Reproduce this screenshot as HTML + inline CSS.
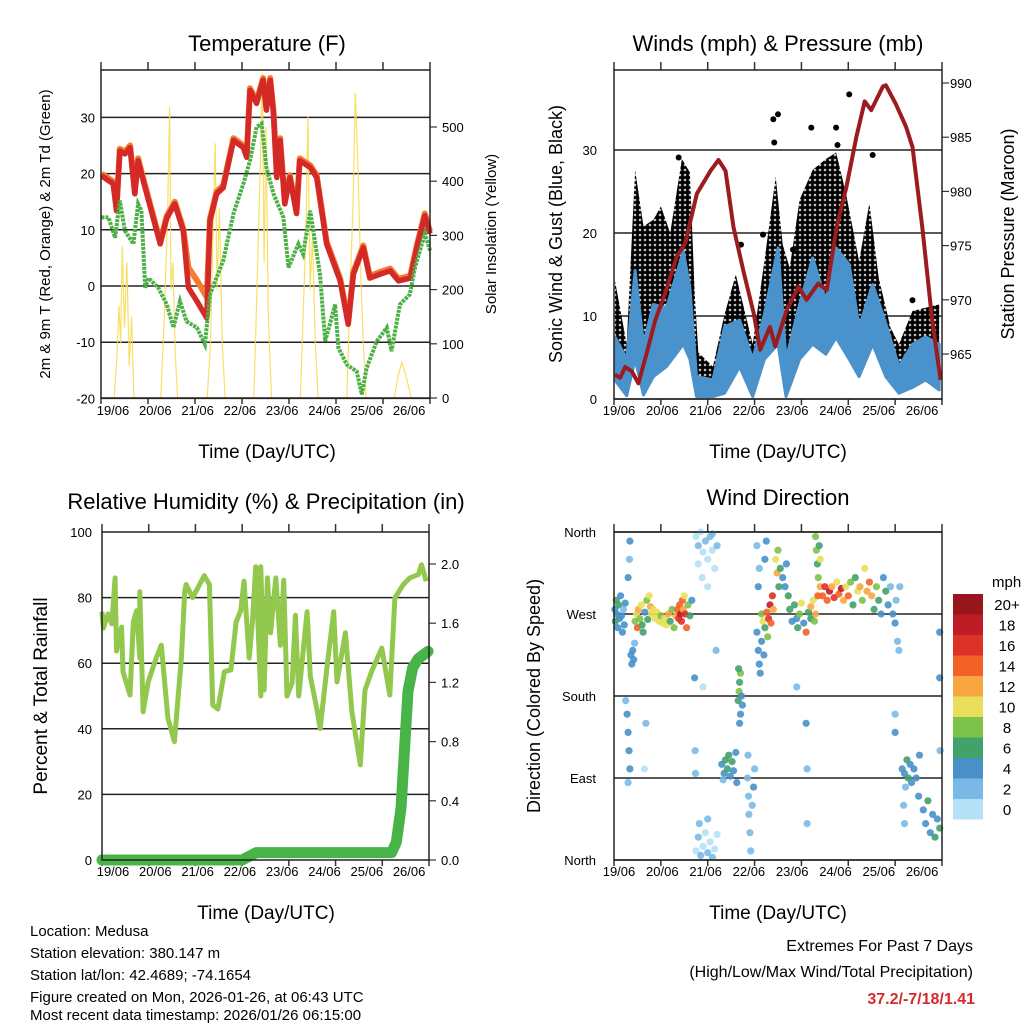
<!DOCTYPE html>
<html><head><meta charset="utf-8"><style>
html,body{margin:0;padding:0;background:#fff;}
svg{display:block;font-family:"Liberation Sans",sans-serif;}
</style></head><body>
<svg id="c" width="1024" height="1024" viewBox="0 0 1024 1024" xmlns="http://www.w3.org/2000/svg">
<defs>
<pattern id="dotpat" width="5" height="5" patternUnits="userSpaceOnUse"><circle cx="2.5" cy="2.5" r="2.6" fill="#000"/></pattern>
</defs>
<g id="static">
<text x="267" y="51" font-size="22" text-anchor="middle">Temperature (F)</text>
<text x="778" y="51" font-size="22" text-anchor="middle">Winds (mph) &amp; Pressure (mb)</text>
<text x="266" y="509" font-size="22" text-anchor="middle">Relative Humidity (%) &amp; Precipitation (in)</text>
<text x="778" y="505" font-size="22" text-anchor="middle">Wind Direction</text>
<text x="267" y="458" font-size="19" text-anchor="middle">Time (Day/UTC)</text>
<text x="778" y="458" font-size="19" text-anchor="middle">Time (Day/UTC)</text>
<text x="266" y="919" font-size="19" text-anchor="middle">Time (Day/UTC)</text>
<text x="778" y="919" font-size="19" text-anchor="middle">Time (Day/UTC)</text>
<text transform="translate(50,234) rotate(-90)" font-size="15" text-anchor="middle">2m &amp; 9m T (Red, Orange) &amp; 2m Td (Green)</text>
<text transform="translate(496,234) rotate(-90)" font-size="15" text-anchor="middle">Solar Insolation (Yellow)</text>
<text transform="translate(562,234) rotate(-90)" font-size="18" text-anchor="middle">Sonic Wind &amp; Gust (Blue, Black)</text>
<text transform="translate(1014,234) rotate(-90)" font-size="18" text-anchor="middle">Station Pressure (Maroon)</text>
<text transform="translate(47,696) rotate(-90)" font-size="19" text-anchor="middle">Percent &amp; Total Rainfall</text>
<text transform="translate(540,696) rotate(-90)" font-size="18" text-anchor="middle">Direction (Colored By Speed)</text>
<g font-size="15">
<text x="30" y="936">Location: Medusa</text>
<text x="30" y="958">Station elevation: 380.147 m</text>
<text x="30" y="980">Station lat/lon: 42.4689; -74.1654</text>
<text x="30" y="1002">Figure created on Mon, 2026-01-26, at 06:43 UTC</text>
<text x="30" y="1024" dy="-4">Most recent data timestamp: 2026/01/26 06:15:00</text>
</g>
<text x="973" y="951" font-size="16" text-anchor="end">Extremes For Past 7 Days</text>
<text x="973" y="977" font-size="16" text-anchor="end">(High/Low/Max Wind/Total Precipitation)</text>
<text x="975" y="1004" font-size="16" font-weight="bold" fill="#d42a2a" text-anchor="end">37.2/-7/18/1.41</text>
<text x="992" y="587" font-size="15">mph</text>
</g>
<g id="dyn"></g>
</svg>
<script>
// ---------- Temperature panel data ----------
const tempT=[0.01,0.26,0.33,0.40,0.51,0.62,0.72,0.79,0.90,1.26,1.40,1.57,1.75,1.86,2.04,2.25,2.32,2.46,2.60,2.82,3.03,3.10,3.17,3.31,3.45,3.52,3.60,3.67,3.74,3.81,3.91,4.02,4.16,4.23,4.45,4.59,4.80,5.09,5.26,5.37,5.58,5.72,5.94,6.15,6.33,6.58,6.72,6.89,7.0];
const temp2m=[19.6,18.2,13.4,24,23.5,24.6,16.4,22.3,18.7,7.5,12.1,14.6,9.8,-0.3,-2.7,-5.7,11.6,16.4,17.5,25.9,24.6,22.9,34.8,32.5,36.6,31.3,36.6,30.7,19.3,25.9,14.6,19.3,12.9,22.3,21.1,19.3,7.5,0.9,-6.8,2.1,6.8,1.4,2.1,2.7,0.9,1.4,6.8,12.5,9.3];
const temp9m=[20,18.6,13.8,24.4,23.9,25,16.8,22.7,19.1,7.9,12.5,15,10.2,3.3,1.0,-2.0,12,16.8,17.9,26.3,25,23.3,35.2,32.9,37,31.7,37,31.1,19.7,26.3,15,19.7,13.3,22.7,21.5,19.7,7.9,1.3,-6.4,2.5,7.2,1.8,2.5,3.1,1.3,1.8,7.2,12.9,9.7];
const dewT=[0.01,0.16,0.30,0.40,0.51,0.69,0.79,0.86,0.94,1.01,1.22,1.40,1.54,1.68,1.82,2.04,2.21,2.32,2.60,2.82,3.03,3.17,3.31,3.42,3.52,3.67,3.88,3.99,4.20,4.30,4.45,4.66,4.77,4.87,4.98,5.05,5.23,5.44,5.55,5.65,5.87,6.08,6.18,6.36,6.57,6.68,6.89,7.0];
const dewV=[12.2,12.2,8.6,15.2,9.8,7.5,14.6,13.4,-0.3,1.4,-0.3,-3.3,-7.4,-2.7,-6.3,-7.4,-10.4,-1.5,4.5,12.9,18.2,22.3,28.3,28.9,21.1,16.4,12.2,3.3,7.5,5.7,13.4,2.1,-9.8,-6.8,-3.3,-11,-14,-15.2,-19.3,-14.6,-9.8,-7.4,-11.6,-3.3,-1.5,3.3,9.3,6.3];
const solarT=[0.28,0.34,0.38,0.42,0.45,0.50,0.55,0.60,0.65,0.70, 1.27,1.35,1.42,1.46,1.49,1.53,1.58,1.63, 2.26,2.33,2.38,2.43,2.47,2.52,2.58,2.64, 3.25,3.32,3.38,3.43,3.47,3.51,3.56,3.63, 4.24,4.30,4.36,4.40,4.45,4.50,4.56,4.62, 5.23,5.30,5.36,5.41,5.46,5.52,5.58,5.64, 6.24,6.32,6.40,6.46,6.52,6.60];
const solarV=[0,80,170,100,280,130,250,60,150,0, 0,150,350,537,200,250,80,0, 0,100,300,470,200,350,100,0, 0,200,400,600,250,500,150,0, 0,150,300,520,200,300,100,0, 0,200,350,563,450,250,100,0, 0,40,66,50,30,0];
const tempTicks=[30,20,10,0,-10,-20];
const solarTicks=[500,400,300,200,100,0];
const dayLabels=["19/06","20/06","21/06","22/06","23/06","24/06","25/06","26/06"];
// ---------- Wind panel data ----------
const sonicT=[0.02,0.27,0.45,0.63,0.84,1.12,1.48,1.62,1.76,2.11,2.36,2.68,2.96,3.21,3.50,3.67,3.96,4.24,4.52,4.74,5.02,5.23,5.52,5.80,6.08,6.37,6.65,6.94];
const sonicHi=[7.5,4.8,15.5,6.6,11.4,11,17.8,13.4,2.7,2.3,8.7,9.5,4.8,10.2,18.2,4.8,11.4,17,11.8,18.2,16.2,8.7,13.8,9.1,3.9,6.6,7.5,6.6];
const sonicLo=[2.3,0.4,4.8,0.5,2.7,3.9,6.6,4.8,0.3,0.3,0.7,3.9,0.3,4.8,6.6,0.3,4.8,6.6,5.4,7.4,4.8,2.7,6.6,2.7,0.7,1.4,2.3,1.1];
const gustT=[0.02,0.27,0.45,0.63,0.84,1.0,1.2,1.45,1.62,1.72,1.80,2.11,2.36,2.60,2.96,3.21,3.45,3.60,3.75,3.96,4.24,4.52,4.74,4.95,5.23,5.45,5.65,5.90,6.08,6.37,6.94];
const gustHi=[14.3,6.6,27.6,20.8,21.6,23.2,20,28.9,27.3,13,5.6,3.9,10.2,15,6.6,16.6,26.8,18.6,15.8,24,27.6,28.9,29.7,24.8,16.6,23.6,14.6,8.6,6.6,10.6,11.4];
const gustOutT=[1.38,3.40,3.50,3.42,4.21,5.02,4.74,5.52,4.77,3.18,2.71,3.82,6.37];
const gustOutV=[29.1,33.7,34.3,30.9,32.7,36.7,32.7,29.4,30.6,19.8,18.6,18.0,11.9];
const presT=[0.02,0.13,0.24,0.38,0.52,0.70,0.88,1.09,1.34,1.52,1.77,2.06,2.23,2.38,2.55,2.77,2.98,3.12,3.33,3.44,3.69,3.94,4.11,4.36,4.54,4.75,4.96,5.17,5.35,5.49,5.74,5.80,6.01,6.23,6.37,6.58,6.79,6.97];
const presV=[963.1,962.8,963.8,963.4,962.3,965.1,968.1,970.6,974,975.2,979.8,981.9,982.9,981.9,976.7,972.5,968.8,965.4,967.5,965.7,969.1,971.2,970,971.5,970.9,976.7,980.4,985,988.3,987.5,989.7,989.8,988.1,986,984.1,976.7,968.1,962.6];
const windTicks=[30,20,10,0];
const presTicks=[990,985,980,975,970,965];
// ---------- RH panel data ----------
const rhT=[0,0.03,0.13,0.21,0.28,0.31,0.42,0.45,0.60,0.67,0.74,0.81,0.81,0.88,0.99,1.16,1.27,1.41,1.55,1.70,1.77,1.80,1.94,2.09,2.19,2.30,2.37,2.48,2.62,2.76,2.87,2.97,3.04,3.15,3.22,3.29,3.40,3.40,3.47,3.54,3.61,3.72,3.82,3.89,3.96,4.07,4.14,4.21,4.39,4.46,4.60,4.67,4.82,4.96,5.03,5.21,5.35,5.53,5.63,5.77,5.99,6.16,6.27,6.45,6.59,6.77,6.84,6.94];
const rhV=[75.7,70.7,75,72,86,63.7,71,57.4,50.3,72.5,76,61.6,81.8,45.2,54.3,61.6,65.5,43.3,36.1,61.6,81.8,84,80,84,86.7,84,47.3,46,57.4,58,72.5,76,85,61.6,72.5,89.4,50,89.4,51.8,86,69.3,86,65.5,85.3,50,54,74.6,50,75.7,56,46,40.1,59.4,75.7,54.3,69.3,45.2,29,51.8,57.4,64.6,50.3,79.9,84,86,87,90,85];
const rainT=[0,3.0,3.3,6.2,6.3,6.4,6.55,6.65,6.77,6.98];
const rainV=[0,0,0.05,0.05,0.12,0.35,1.14,1.30,1.36,1.41];
const rhTicks=[100,80,60,40,20,0];
const rainTicks=["2.0","1.6","1.2","0.8","0.4","0.0"];
// ---------- Direction panel data: [day, degrees, mph] ----------
const dirObs=[[0.02,275,4],[0.03,262,6],[0.05,285,6],[0.06,270,4],[0.08,255,4],[0.1,280,6],[0.12,265,4],[0.14,290,4],[0.16,268,4],[0.18,250,4],[0.2,275,2],[0.22,258,4],[0.24,282,4],
[0.36,225,4],[0.38,215,4],[0.40,230,4],[0.42,220,4],[0.44,238,2],[0.33,330,2],[0.34,350,4],[0.3,310,4],
[0.45,262,8],[0.48,270,10],[0.5,255,14],[0.52,275,12],[0.55,265,8],[0.58,280,10],[0.6,258,6],[0.62,250,6],[0.66,272,4],[0.7,285,8],[0.72,264,6],[0.75,290,10],[0.78,278,12],
[0.8,270,10],[0.84,275,10],[0.88,265,10],[0.92,272,10],[0.96,262,10],[1.0,268,8],[1.04,260,10],[1.08,265,10],[1.12,258,10],[1.16,270,12],[1.2,262,6],[1.24,275,8],[1.28,255,8],
[1.32,268,12],[1.36,275,14],[1.38,265,16],[1.40,280,14],[1.42,270,18],[1.44,262,16],[1.46,285,14],[1.48,275,12],[1.50,290,10],[1.52,270,16],[1.55,255,14],[1.58,280,8],[1.62,268,6],[1.66,285,4],
[1.75,355,0],[1.8,345,2],[1.85,360,0],[1.9,338,0],[1.95,350,2],[2.0,330,0],[2.05,355,2],[2.1,340,0],[2.15,320,0],[2.2,345,2],[1.88,310,0],[2.0,300,0],[1.8,325,0],[2.1,358,2],
[1.75,10,0],[1.8,25,2],[1.85,5,2],[1.9,15,0],[1.95,30,0],[2.0,8,2],[2.05,20,0],[2.1,3,2],[2.15,12,0],[2.2,28,0],[1.82,40,2],[2.0,45,2],
[1.72,200,4],[1.73,120,2],[1.74,95,2],[1.9,190,0],[2.18,230,2],[0.28,160,4],[0.3,140,4],[0.32,120,4],[0.34,100,4],[0.3,85,2],[0.25,175,2],[0.65,100,0],[0.68,150,2],
[2.3,105,4],[2.35,95,4],[2.38,110,6],[2.42,100,6],[2.45,115,6],[2.48,92,4],[2.52,108,6],[2.55,98,4],[2.6,118,4],[2.62,85,4],[2.33,88,2],
[2.65,175,6],[2.67,185,8],[2.68,195,6],[2.7,205,8],[2.72,180,4],[2.74,170,4],[2.66,210,6],[2.7,160,4],[2.68,150,4],
[2.85,90,2],[2.87,70,2],[2.88,50,2],[2.9,30,2],[2.92,10,2],[2.95,60,2],[2.98,80,4],[3.0,100,2],[2.86,115,2],
[3.05,250,4],[3.08,230,4],[3.1,215,4],[3.12,205,4],[3.08,300,4],[3.1,320,2],[3.15,240,4],[3.2,225,4],[3.22,330,4],[3.25,350,4],[3.05,345,2],
[3.15,270,8],[3.18,262,10],[3.22,255,6],[3.26,272,14],[3.3,265,16],[3.33,280,18],[3.35,260,14],[3.38,290,16],[3.28,245,8],[3.4,275,12],
[3.45,330,10],[3.48,315,12],[3.5,340,8],[3.52,300,6],[3.55,320,6],[3.6,310,4],[3.65,300,4],[3.68,325,4],[3.72,290,6],
[3.75,275,6],[3.8,262,4],[3.85,280,6],[3.9,265,4],[3.92,255,6],[3.96,270,8],[4.0,282,10],[4.05,260,4],[4.1,250,14],[4.15,272,6],[4.2,265,6],[3.9,190,2],[4.1,150,4],[4.12,100,2],[4.12,40,2],
[4.2,278,12],[4.25,285,10],[4.3,270,12],[4.35,290,14],[4.4,300,12],[4.28,262,8],
[4.3,355,8],[4.32,340,8],[4.34,325,6],[4.36,310,8],[4.38,345,6],[4.4,330,10],
[4.45,290,14],[4.5,300,16],[4.55,285,14],[4.6,295,18],[4.65,300,12],[4.7,288,16],[4.75,305,10],[4.8,292,14],[4.85,298,18],[4.9,285,12],[4.95,300,10],[5.0,290,14],[5.05,305,8],
[5.1,280,6],[5.15,310,6],[5.2,295,10],[5.25,300,12],[5.3,285,8],[5.35,320,10],[5.4,295,12],[5.45,305,14],[5.5,290,12],[5.55,275,6],[5.6,300,8],[5.65,285,6],[5.7,270,4],[5.75,310,4],[5.8,295,6],[5.85,280,4],[5.9,300,2],
[5.95,270,4],[6.0,260,4],[6.02,285,2],[6.05,240,2],[6.08,230,2],[6.1,300,2],[6.0,160,2],[6.0,140,4],
[6.15,100,4],[6.2,95,4],[6.25,110,6],[6.28,90,6],[6.32,105,4],[6.35,85,4],[6.4,100,4],[6.45,90,4],[6.22,80,2],[6.18,60,2],[6.2,40,2],[6.5,70,4],[6.52,115,4],
[6.6,55,4],[6.65,40,4],[6.7,65,6],[6.75,30,4],[6.8,50,4],[6.85,25,6],[6.9,45,4],[6.95,35,6],[6.95,200,4],[6.95,250,4],[6.96,120,2]];
const dirTicks=["North","West","South","East","North"];
const speedLabels=["20+","18","16","14","12","10","8","6","4","2","0"];
const speedColors=["#b5e1f7","#7ab9e6","#4891c8","#41a26a","#7dc24b","#e8e05a","#f9a642","#f26226","#de3127","#c01c26","#98161b"];

const NS="http://www.w3.org/2000/svg";
const dyn=document.getElementById('dyn');
function mk(tag,attrs,parent){const e=document.createElementNS(NS,tag);for(const k in attrs)e.setAttribute(k,attrs[k]);(parent||dyn).appendChild(e);return e;}
function lin(d0,d1,r0,r1){return v=>r0+(v-d0)/(d1-d0)*(r1-r0);}
function pathOf(ts,vs,xs,ys){return ts.map((t,i)=>(i?'L':'M')+xs(t).toFixed(1)+','+ys(vs[i]).toFixed(1)).join('');}

function frame(name,x0,y0,x1,y1,gridYs){
  const g=mk('g',{});
  
  
  gridYs.forEach(y=>{const l=mk('line',{x1:x0,x2:x1,y1:y,y2:y,stroke:'#222','stroke-width':1.5},g);
    });
  for(let d=0;d<=7;d++){const x=x0+d*(x1-x0)/7;
    mk('line',{x1:x,x2:x,y1:y0,y2:y0-8,stroke:'#333','stroke-width':1.5},g);
    mk('line',{x1:x,x2:x,y1:y1,y2:y1+6,stroke:'#333','stroke-width':1.5},g);}
  return g;
}
function border(x0,y0,x1,y1,name){const r=mk('rect',{x:x0,y:y0,width:x1-x0,height:y1-y0,fill:'none',stroke:'#222','stroke-width':1.5});
  }
function xlabels(name,c0,step,y){dayLabels.forEach((s,i)=>{const t=mk('text',{x:c0+i*step,y:y,'font-size':13,'text-anchor':'middle'});t.textContent=s;
  });}
function ylabels(name,vals,ys,x,anchor){vals.forEach(v=>{const t=mk('text',{x:x,y:ys(parseFloat(v))+5,'font-size':13,'text-anchor':anchor});t.textContent=v;
  });}

// ===== Temperature =====
{const X0=101,X1=430,Y0=70,Y1=398;
 const xs=lin(0,7,X0,X1), ys=lin(0,10,286,229.8), ss=lin(0,100,398,343.8);
 frame('temp',X0,Y0,X1,Y1,tempTicks.map(ys));
 ylabels('temp-y',tempTicks,ys,95,'end');
 ylabels('solar-y',solarTicks,ss,442,'start');
 solarTicks.forEach(v=>mk('line',{x1:X1,x2:X1+7,y1:ss(v),y2:ss(v),stroke:'#333','stroke-width':1.2}));
 const cp=mk('clipPath',{id:'cpT'});mk('rect',{x:X0,y:Y0,width:X1-X0,height:Y1-Y0},cp);
 const sol=mk('path',{d:pathOf(solarT,solarV,xs,ss),fill:'none',stroke:'#f8d94a','stroke-width':1.2,opacity:0.85,'clip-path':'url(#cpT)'});
 
 const o=mk('path',{d:pathOf(tempT,temp9m,xs,ys),fill:'none',stroke:'#f47b30','stroke-width':6,'stroke-linejoin':'round'});
 
 const r=mk('path',{d:pathOf(tempT,temp2m,xs,ys),fill:'none',stroke:'#d42a27','stroke-width':5.5,'stroke-linejoin':'round'});
 
 const g=mk('path',{d:pathOf(dewT,dewV,xs,ys),fill:'none',stroke:'#4cb046','stroke-width':4,'stroke-dasharray':'3 1'});
 
 border(X0,Y0,X1,Y1,'temp');
 xlabels('temp',113,42.3,415);}

// ===== Winds =====
{const X0=614,X1=942,Y0=70,Y1=399;
 const xs=lin(0,7,X0,X1), ys=lin(0,10,399,316), ps=lin(965,990,354,83);
 frame('wind',X0,Y0,X1,Y1,windTicks.map(ys));
 ylabels('wind-y',windTicks,ys,597,'end');
 ylabels('pressure-y',presTicks,ps,950,'start');
 presTicks.forEach(v=>mk('line',{x1:X1,x2:X1+7,y1:ps(v),y2:ps(v),stroke:'#333','stroke-width':1.2}));
 const cp=mk('clipPath',{id:'cpW'});mk('rect',{x:X0,y:Y0,width:X1-X0,height:Y1-Y0},cp);
 const gp='M'+gustT.map((t,i)=>xs(t).toFixed(1)+','+ys(gustHi[i]).toFixed(1)).join('L')+'L'+sonicT.slice().reverse().map((t,i)=>xs(t).toFixed(1)+','+ys(sonicLo[sonicT.length-1-i]).toFixed(1)).join('L')+'Z';
 const ga=mk('path',{d:gp,fill:'url(#dotpat)',stroke:'none','clip-path':'url(#cpW)'});
 
 gustOutT.forEach((t,i)=>{const c=mk('circle',{cx:xs(t),cy:ys(gustOutV[i]),r:3,fill:'#000'});
   });
 const bp='M'+sonicT.map((t,i)=>xs(t).toFixed(1)+','+ys(sonicHi[i]).toFixed(1)).join('L')+'L'+sonicT.slice().reverse().map((t,i)=>xs(t).toFixed(1)+','+ys(sonicLo[sonicT.length-1-i]).toFixed(1)).join('L')+'Z';
 const ba=mk('path',{d:bp,fill:'#4a92cc',stroke:'#4a92cc','stroke-width':3,'stroke-linejoin':'round','clip-path':'url(#cpW)'});
 
 const pl=mk('path',{d:pathOf(presT,presV,xs,ps),fill:'none',stroke:'#9b1b1e','stroke-width':4,'stroke-linejoin':'round','clip-path':'url(#cpW)'});
 
 border(X0,Y0,X1,Y1,'wind');
 xlabels('wind',619,43.3,415);}

// ===== RH & Precip =====
{const X0=102,X1=429,Y0=532,Y1=860;
 const xs=lin(0,7,X0,X1), ys=lin(0,100,860,532), rs=lin(0,2,860,564);
 frame('rh',X0,Y0,X1,Y1,rhTicks.slice(1,5).map(ys));
 ylabels('rh-y',rhTicks.map(String),ys,92,'end');
 ylabels('rain-y',rainTicks,rs,441,'start');
 rainTicks.forEach(v=>mk('line',{x1:X1,x2:X1+7,y1:rs(parseFloat(v)),y2:rs(parseFloat(v)),stroke:'#333','stroke-width':1.2}));
 const rh=mk('path',{d:pathOf(rhT,rhV,xs,ys),fill:'none',stroke:'#92c84d','stroke-width':5,'stroke-linejoin':'round'});
 
 const rn=mk('path',{d:pathOf(rainT,rainV,xs,rs),fill:'none',stroke:'#48b447','stroke-width':11,'stroke-linecap':'round','stroke-linejoin':'round'});
 
 border(X0,Y0,X1,Y1,'rh');
 xlabels('rh',113,42.3,876);}

// ===== Wind direction =====
{const X0=614,X1=942,Y0=532,Y1=860;
 const xs=lin(0,7,X0,X1), ys=lin(0,360,860,532);
 frame('dir',X0,Y0,X1,Y1,[360,270,180,90,0].map(ys));
 dirTicks.forEach((s,i)=>{const t=mk('text',{x:596,y:ys(360-i*90)+5,'font-size':13,'text-anchor':'end'});t.textContent=s;
   });
 dirObs.forEach(p=>{const bin=Math.min(10,Math.floor(p[2]/2));
   const c=mk('circle',{cx:xs(p[0]).toFixed(1),cy:ys(p[1]).toFixed(1),r:3.6,fill:speedColors[bin],opacity:0.9});
   });
 border(X0,Y0,X1,Y1,'dir');
 xlabels('dir',619,43.3,876);
 speedLabels.forEach((s,i)=>{const y=594+i*20.5;
   const r=mk('rect',{x:953,y:y,width:30,height:20.5,fill:speedColors[10-i]});
   
   const t=mk('text',{x:1007,y:y+16,'font-size':15,'text-anchor':'middle'});t.textContent=s;
   });}
</script>
</body></html>
